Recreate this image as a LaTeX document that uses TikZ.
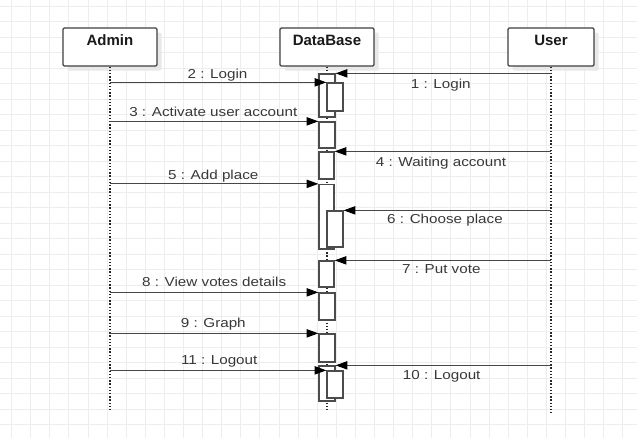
\documentclass[tikz,border=0pt]{standalone}
\usepackage{fontspec}
\setmainfont{Liberation Sans}
\newfontfamily\labfont[FakeStretch=1.17]{Liberation Sans}
\usetikzlibrary{arrows.meta,shadows}
\newcommand\actbox[5]{\node[act, minimum width={(#4-#2)*0.75pt}, minimum height={(#5-#3)*0.75pt}] (#1) at ({(#2+#4)/2},{(#3+#5)/2}) {};}
\begin{document}
\begin{tikzpicture}[x=0.75pt,y=-0.75pt,
  gridline/.style={draw=black!7, line width=0.6pt},
  lifebox/.style={draw=black!75, line width=0.9pt, fill=white, rounded corners=1pt, inner sep=0pt,
    drop shadow={shadow xshift=3.5pt, shadow yshift=-3.5pt, fill=black!9, opacity=1}},
  titletxt/.style={font=\fontsize{11.25}{13}\selectfont\bfseries, text=black!90, anchor=base, inner sep=0pt},
  lifeline/.style={line width=1.1pt, dash pattern=on 1.1pt off 1.3pt, draw=black!85},
  act/.style={draw=black!70, line width=0.95pt, fill=white, inner sep=0pt},
  msg/.style={draw=black!72, line width=0.8pt, -{Triangle[length=8.8pt,width=6.2pt,color=black]}},
  lab/.style={font=\labfont\fontsize{9.75}{11}\selectfont, text=black!78, anchor=base, inner sep=0pt}]
\useasboundingbox (0,0) rectangle (637,438);
\fill[white] (0,0) rectangle (637,438);
% background grid
\foreach \i in {0,...,32} \draw[gridline] ({11.5+19.1*\i},0) -- ({11.5+19.1*\i},438);
\foreach \j in {0,...,27} \draw[gridline] (0,{6.3+15.5*\j}) -- (637,{6.3+15.5*\j});

% lifeline heads
\node[lifebox, minimum width={94*0.75pt}, minimum height={38*0.75pt}] (admin) at (110,47) {};
\node[lifebox, minimum width={94*0.75pt}, minimum height={38*0.75pt}] (db) at (327,47) {};
\node[lifebox, minimum width={86*0.75pt}, minimum height={38*0.75pt}] (user) at (551,47) {};
\node[titletxt] (admint) at (110,45.5) {Admin};
\node[titletxt] (dbt) at (327,46) {DataBase};
\node[titletxt] (usert) at (551,46) {User};

% lifelines
\coordinate (adminEnd) at (110,412);
\coordinate (dbEnd) at (327,412);
\coordinate (userEnd) at (551,413);
\draw[lifeline] (admin.south) -- (adminEnd);
\draw[lifeline] (db.south) -- (dbEnd);
\draw[lifeline] (user.south) -- (userEnd);

% activation boxes
\actbox{a1}{319}{74}{335}{117}
\actbox{a1i}{327}{83}{343}{111}
\actbox{a2}{319}{122}{335}{148}
\actbox{a3}{319}{152}{334}{179}
\actbox{a4}{319}{184.5}{334}{249}
\actbox{a4i}{327}{211}{343}{247}
\actbox{a5}{319}{261}{334}{287}
\actbox{a6}{319}{293}{335}{320}
\actbox{a7}{319}{334}{335}{362}
\actbox{a8}{319}{366}{335}{401}
\actbox{a8i}{327}{371}{343}{398}

% messages
\draw[msg] (user.south |- a1.north) -- (a1.north east);
\draw[msg] (admin.south |- a1i.north) -- (a1i.north west);
\draw[msg] (admin.south |- a2.north) -- (a2.north west);
\draw[msg] (user.south |- a3.north) -- (a3.north east);
\draw[msg] (admin.south |- a4.north) -- (a4.north west);
\draw[msg] (user.south |- a4i.north) -- (a4i.north east);
\draw[msg] (user.south |- a5.north) -- (a5.north east);
\draw[msg] (admin.south |- a6.north) -- (a6.north west);
\draw[msg] (admin.south |- a7.north) -- (a7.north west);
\draw[msg] (user.south |- a8.north) -- (a8.north east);
\draw[msg] (admin.south |- a8i.north) -- (a8i.north west);

% labels
\node[lab] (l1) at (440.8,89) {1 : Login};
\node[lab] (l2) at (217.5,78.7) {2 : Login};
\node[lab] (l3) at (213.3,116.7) {3 : Activate user account};
\node[lab] (l4) at (441,166.7) {4 : Waiting account};
\node[lab] (l5) at (213.3,179.3) {5 : Add place};
\node[lab] (l6) at (445,224) {6 : Choose place};
\node[lab] (l7) at (441.3,274) {7 : Put vote};
\node[lab] (l8) at (214.2,286.7) {8 : View votes details};
\node[lab] (l9) at (213.3,327.7) {9 : Graph};
\node[lab] (l10) at (441.7,380) {10 : Logout};
\node[lab] (l11) at (219.2,365) {11 : Logout};
\end{tikzpicture}
\end{document}
